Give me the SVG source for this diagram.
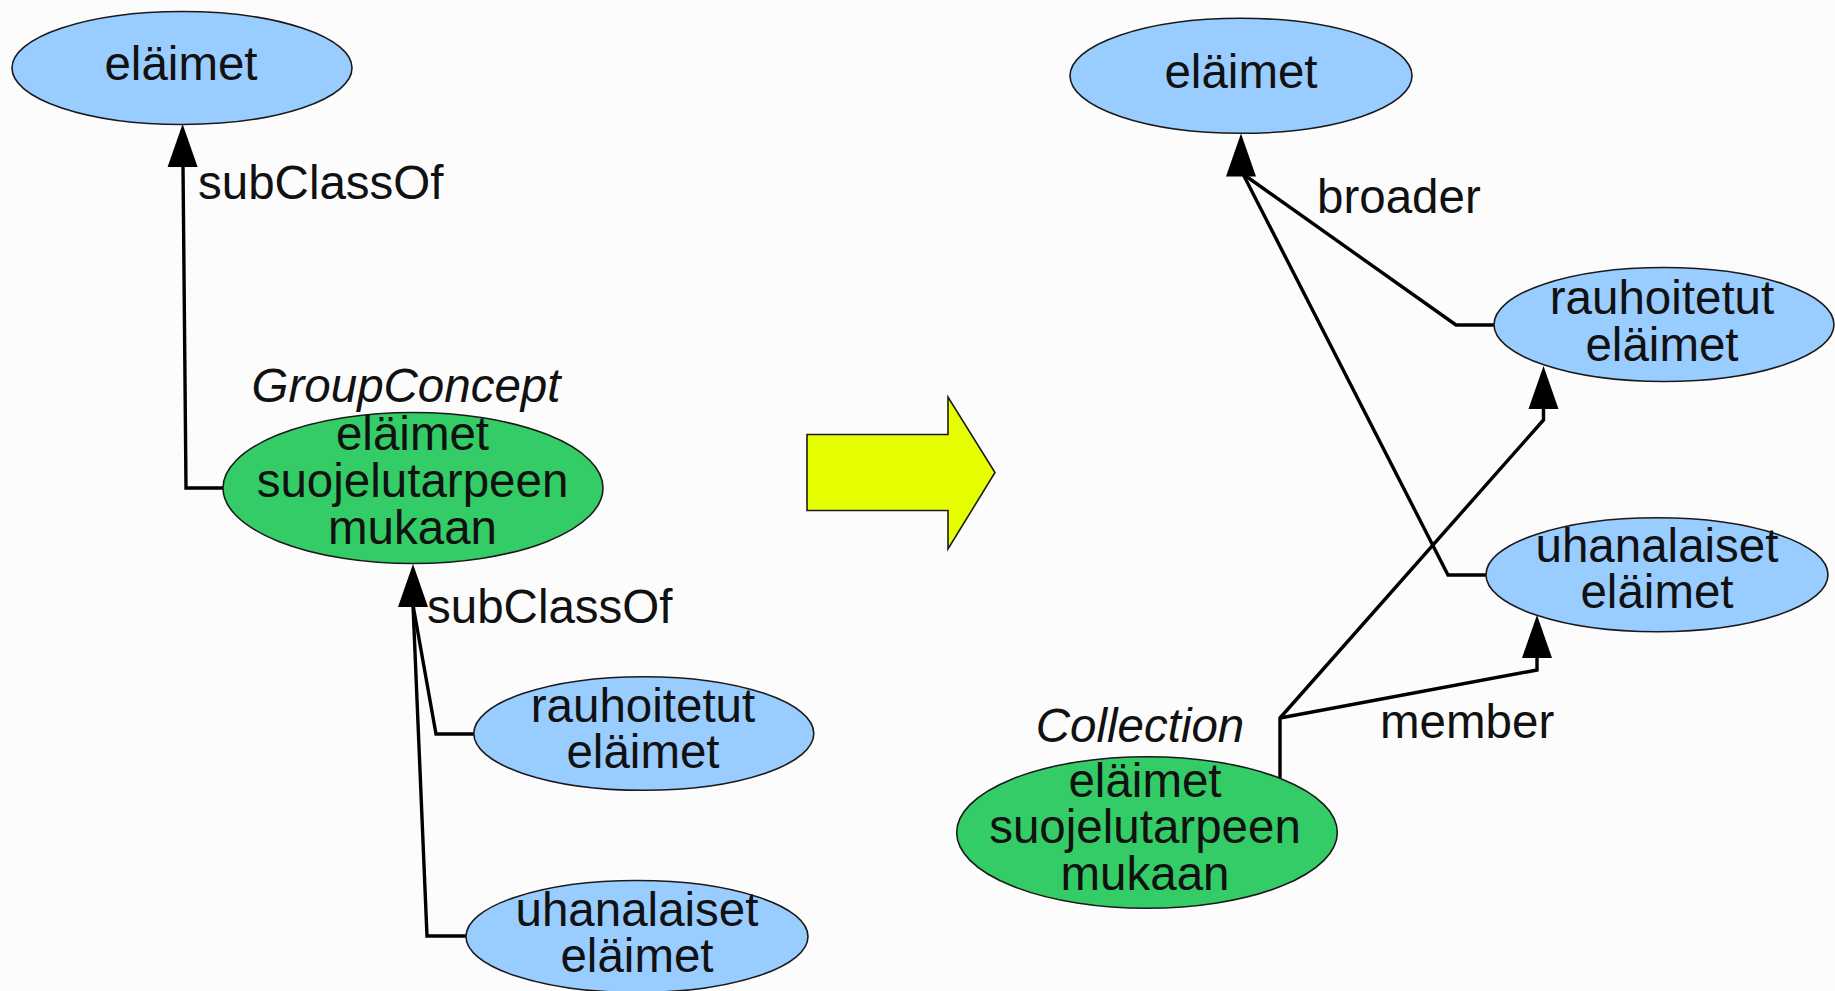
<svg xmlns="http://www.w3.org/2000/svg" width="1835" height="991" viewBox="0 0 1835 991">
<style>
.bg{fill:#fcfcfc}
.blue{fill:#99ccff;stroke:#1a1a1a;stroke-width:1.6}
.green{fill:#33cc66;stroke:#1a1a1a;stroke-width:1.6}
.t{font-family:"Liberation Sans",Arial,sans-serif;font-size:47.5px;fill:#111;text-anchor:middle}
.lbl{font-family:"Liberation Sans",Arial,sans-serif;font-size:47.5px;fill:#111}
.it{font-style:italic}
.edge{fill:none;stroke:#000;stroke-width:3.4;stroke-linejoin:miter}
.head{fill:#000}
</style>
<defs>
<path id="ah" d="M0,0 L-15,43 L15,43 Z"/>
</defs>
<rect class="bg" x="0" y="0" width="1835" height="991"/>

<g id="connectors">
  <polyline class="edge" points="223,488 186,488 183,165"/>
  <use href="#ah" class="head" x="182.6" y="124"/>
  <polyline class="edge" points="474,734 436,734 413,605"/>
  <polyline class="edge" points="467,936 427,936 413,605"/>
  <use href="#ah" class="head" x="413" y="564"/>
  <polyline class="edge" points="1494,325 1456,325 1243,174"/>
  <polyline class="edge" points="1486,575 1448,575 1243,174"/>
  <use href="#ah" class="head" x="1241" y="133.5"/>
  <polyline class="edge" points="1280,778 1280,718 1543.5,420 1543.5,406"/>
  <use href="#ah" class="head" x="1543.5" y="366"/>
  <polyline class="edge" points="1280,718 1537,670 1537,655"/>
  <use href="#ah" class="head" x="1537" y="615"/>
  <text class="lbl" x="198" y="199">subClassOf</text>
  <text class="lbl" x="427" y="623">subClassOf</text>
  <text class="lbl" x="1317" y="213">broader</text>
  <text class="lbl" x="1380" y="738">member</text>
</g>

<g id="transform-arrow">
  <polygon points="807,434.5 948,434.5 948,397 995,472.5 948,549 948,510.5 807,510.5" fill="#e6ff00" stroke="#1a1a1a" stroke-width="1.6"/>
</g>

<g id="left-elaimet">
  <ellipse class="blue" cx="182" cy="68" rx="170" ry="56.5"/>
  <text class="t" x="181" y="80">eläimet</text>
</g>
<g id="left-group">
  <text class="t it" x="406" y="401.5">GroupConcept</text>
  <ellipse class="green" cx="413" cy="488" rx="190" ry="75.5"/>
  <text class="t" x="412.5" y="450"><tspan x="412.5">eläimet</tspan><tspan x="412.5" dy="47">suojelutarpeen</tspan><tspan x="412.5" dy="46.5">mukaan</tspan></text>
</g>
<g id="left-rauhoitetut">
  <ellipse class="blue" cx="643.8" cy="733.5" rx="170" ry="56.8"/>
  <text class="t" x="643" y="721.5"><tspan x="643">rauhoitetut</tspan><tspan x="643" dy="46.8">eläimet</tspan></text>
</g>
<g id="left-uhanalaiset">
  <ellipse class="blue" cx="637" cy="936.5" rx="171" ry="56"/>
  <text class="t" x="637" y="926"><tspan x="637">uhanalaiset</tspan><tspan x="637" dy="45.5">eläimet</tspan></text>
</g>

<g id="right-elaimet">
  <ellipse class="blue" cx="1241" cy="75.8" rx="171" ry="57.5"/>
  <text class="t" x="1241" y="87.5">eläimet</text>
</g>
<g id="right-rauhoitetut">
  <ellipse class="blue" cx="1664" cy="324.5" rx="170" ry="57"/>
  <text class="t" x="1662" y="314"><tspan x="1662">rauhoitetut</tspan><tspan x="1662" dy="46.5">eläimet</tspan></text>
</g>
<g id="right-uhanalaiset">
  <ellipse class="blue" cx="1657" cy="574.7" rx="171" ry="57"/>
  <text class="t" x="1657" y="561.7"><tspan x="1657">uhanalaiset</tspan><tspan x="1657" dy="46.6">eläimet</tspan></text>
</g>
<g id="right-collection">
  <text class="t it" x="1140" y="741.7">Collection</text>
  <ellipse class="green" cx="1147" cy="832.5" rx="190.3" ry="75.8"/>
  <text class="t" x="1145" y="796.7"><tspan x="1145">eläimet</tspan><tspan x="1145" dy="46.6">suojelutarpeen</tspan><tspan x="1145" dy="46.7">mukaan</tspan></text>
</g>
</svg>
